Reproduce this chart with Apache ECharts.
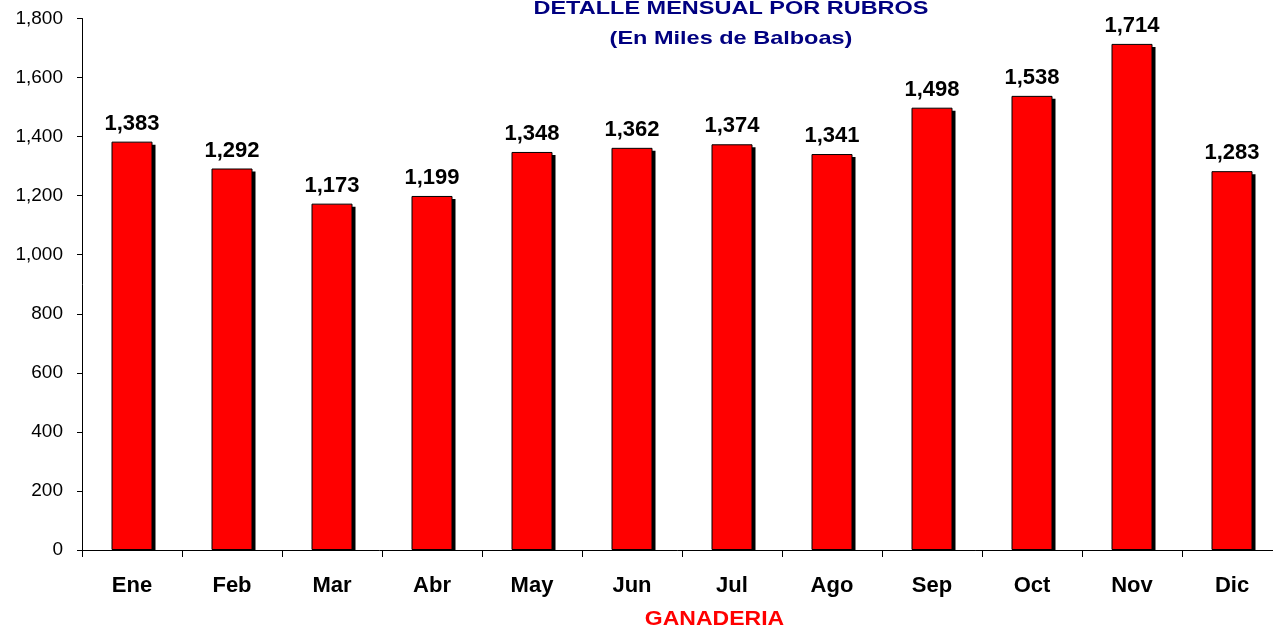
<!DOCTYPE html>
<html><head><meta charset="utf-8">
<script src="https://cdn.jsdelivr.net/npm/echarts@6/dist/echarts.min.js"></script>
<style>html,body{margin:0;padding:0;background:#fff}#c{width:1273px;height:633px}</style>
</head><body><div id="c"></div>
<script>
const categories = ['Ene','Feb','Mar','Abr','May','Jun','Jul','Ago','Sep','Oct','Nov','Dic'];
const values = [1383,1292,1173,1199,1348,1362,1374,1341,1498,1538,1714,1283];
const yTicks = {min:0, max:1800, interval:200};
const titleLines = ['DETALLE MENSUAL POR RUBROS','(En Miles de Balboas)'];
const xName = 'GANADERIA';
const FONT = '"Liberation Sans", Arial, sans-serif';
const fmt = v => Number(v).toLocaleString('en-US');
const BAR_W = 41;

const chart = echarts.init(document.getElementById('c'));
chart.setOption({
  animation:false,
  backgroundColor:'#fff',
  graphic:[
    {type:'text', x:731, y:8.5, scaleX:1.27, z:10,
     style:{text:titleLines[0], x:0, y:0, align:'center', verticalAlign:'middle',
            font:'bold 18.5px '+FONT, fill:'#000080'}},
    {type:'text', x:731, y:39.3, scaleX:1.27, z:10,
     style:{text:titleLines[1], x:0, y:0, align:'center', verticalAlign:'middle',
            font:'bold 18.5px '+FONT, fill:'#000080'}},
    {type:'text', x:714.5, y:619.7, scaleX:1.18, z:10,
     style:{text:xName, x:0, y:0, align:'center', verticalAlign:'middle',
            font:'bold 19.5px '+FONT, fill:'#ff0000'}}
  ],
  grid:{left:82, width:1200, top:18.5, bottom:83, containLabel:false, outerBoundsMode:'none'},
  xAxis:{
    type:'category', data:categories,
    axisLine:{lineStyle:{color:'#000', width:1}},
    axisTick:{show:true, length:7, lineStyle:{color:'#000'}},
    axisLabel:{fontFamily:FONT, fontWeight:'bold', fontSize:22, color:'#000', margin:25}
  },
  yAxis:{
    type:'value', min:yTicks.min, max:yTicks.max, interval:yTicks.interval,
    splitLine:{show:false},
    axisLine:{show:true, lineStyle:{color:'#000', width:1}},
    axisTick:{show:true, length:5, lineStyle:{color:'#000'}},
    axisLabel:{fontFamily:FONT, fontSize:19, color:'#000', margin:19, formatter:fmt}
  },
  series:[
    {
      type:'custom', z:1, silent:true,
      data: values.map((v,i)=>[i,v]),
      renderItem:(params, api)=>{
        const top = api.coord([api.value(0), api.value(1)]);
        const base = api.coord([api.value(0), 0]);
        return {type:'rect', shape:{x:top[0]-BAR_W/2+3, y:top[1]+3, width:BAR_W, height:base[1]-top[1]-3},
                style:{fill:'#000'}};
      }
    },
    {
      type:'bar', z:2, data:values, barWidth:BAR_W,
      itemStyle:{color:'#ff0000', borderColor:'#000', borderWidth:1},
      label:{show:true, position:'top', distance:7, formatter:p=>fmt(p.value),
        fontFamily:FONT, fontWeight:'bold', fontSize:22, color:'#000'}
    }
  ]
});
</script></body></html>
